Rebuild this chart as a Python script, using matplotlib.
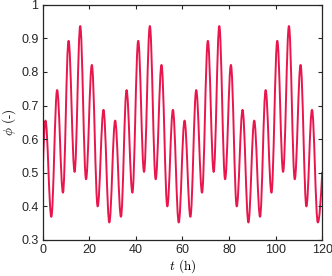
### Oscillating volume fraction phi over time, MATLAB-like look
import numpy as np
import matplotlib
matplotlib.use('Agg')
import matplotlib.pyplot as plt
from matplotlib.path import Path
from matplotlib.patches import PathPatch

### Values (maxima and minima of the curve)
t_start, phi_start = 0.0, 0.50
t_end, phi_end = 120.0, 0.50

peak_t = [1.2, 6.2, 11.1, 16.1, 21.1, 26.1, 31.1, 36.0, 41.0, 46.0, 51.0, 55.9,
          60.9, 65.9, 70.9, 75.8, 80.8, 85.8, 90.8, 95.7, 100.7, 105.7, 110.7, 115.6]
peak_phi = [0.655, 0.746, 0.893, 0.937, 0.821, 0.687,
            0.655, 0.746, 0.893, 0.937, 0.821, 0.687,
            0.655, 0.746, 0.893, 0.937, 0.821, 0.687,
            0.655, 0.746, 0.893, 0.937, 0.821, 0.687]
trough_t = [3.7, 8.7, 13.7, 18.6, 23.6, 28.6, 33.6, 38.5, 43.5, 48.5, 53.5, 58.4,
            63.4, 68.4, 73.4, 78.3, 83.3, 88.3, 93.3, 98.2, 103.2, 108.2, 113.2, 118.1]
trough_phi = [0.368, 0.440, 0.502, 0.480, 0.399, 0.351,
              0.368, 0.440, 0.502, 0.480, 0.399, 0.351,
              0.368, 0.440, 0.502, 0.480, 0.399, 0.351,
              0.368, 0.440, 0.502, 0.480, 0.399, 0.351]

x_ticks = [0, 20, 40, 60, 80, 100, 120]
y_ticks = [0.3, 0.4, 0.5, 0.6, 0.7, 0.8, 0.9, 1.0]
y_tick_labels = ['0.3', '0.4', '0.5', '0.6', '0.7', '0.8', '0.9', '1']

line_color = '#e8164d'

plt.rcParams['font.family'] = ['Liberation Sans', 'DejaVu Sans']
plt.rcParams['mathtext.fontset'] = 'cm'

### Sequence of extrema: start, peak, trough, peak, ... , end
ext_t = [t_start]
ext_phi = [phi_start]
for k in range(len(peak_t)):
    ext_t += [peak_t[k], trough_t[k]]
    ext_phi += [peak_phi[k], trough_phi[k]]
ext_t.append(t_end)
ext_phi.append(phi_end)

### Smooth curve through the extrema: cubic Bezier pieces with flat
### tangents at each extremum (close to a half cosine)
a = 0.3642
verts = [(ext_t[0], ext_phi[0])]
codes = [Path.MOVETO]
n = len(ext_t)
for i in range(n - 1):
    x0, y0 = ext_t[i], ext_phi[i]
    x1, y1 = ext_t[i + 1], ext_phi[i + 1]
    dx = x1 - x0
    if i == 0:
        c1 = (x0 + dx / 3, y0 + (y1 - y0) * 0.55)
    else:
        c1 = (x0 + a * dx, y0)
    if i == n - 2:
        c2 = (x1 - dx / 3, y1 - (y1 - y0) * 0.55)
    else:
        c2 = (x1 - a * dx, y1)
    verts += [c1, c2, (x1, y1)]
    codes += [Path.CURVE4] * 3

fig = plt.figure(figsize=(3.32, 2.76), dpi=100)
ax = fig.add_axes([0.1286, 0.132, 0.842, 0.850])

ax.add_patch(PathPatch(Path(verts, codes), fill=False, edgecolor=line_color,
                       lw=1.4, capstyle='round', joinstyle='round'))

ax.set_xlim(0, 120)
ax.set_ylim(0.3, 1.0)
ax.set_xticks(x_ticks)
ax.set_yticks(y_ticks)
ax.set_yticklabels(y_tick_labels)

ax.tick_params(direction='in', top=True, right=True, length=3, width=0.8,
               labelsize=9, colors='#262626', pad=3)
for s in ax.spines.values():
    s.set_linewidth(0.9)
    s.set_color('#262626')

ax.set_xlabel(r'$t$ (h)', fontsize=9.5, family=['cmr10', 'DejaVu Serif'], labelpad=1)
ax.set_ylabel(r'$\phi$ (-)', fontsize=9.5, family=['cmr10', 'DejaVu Serif'], labelpad=2)

fig.savefig('out.png', dpi=100)
